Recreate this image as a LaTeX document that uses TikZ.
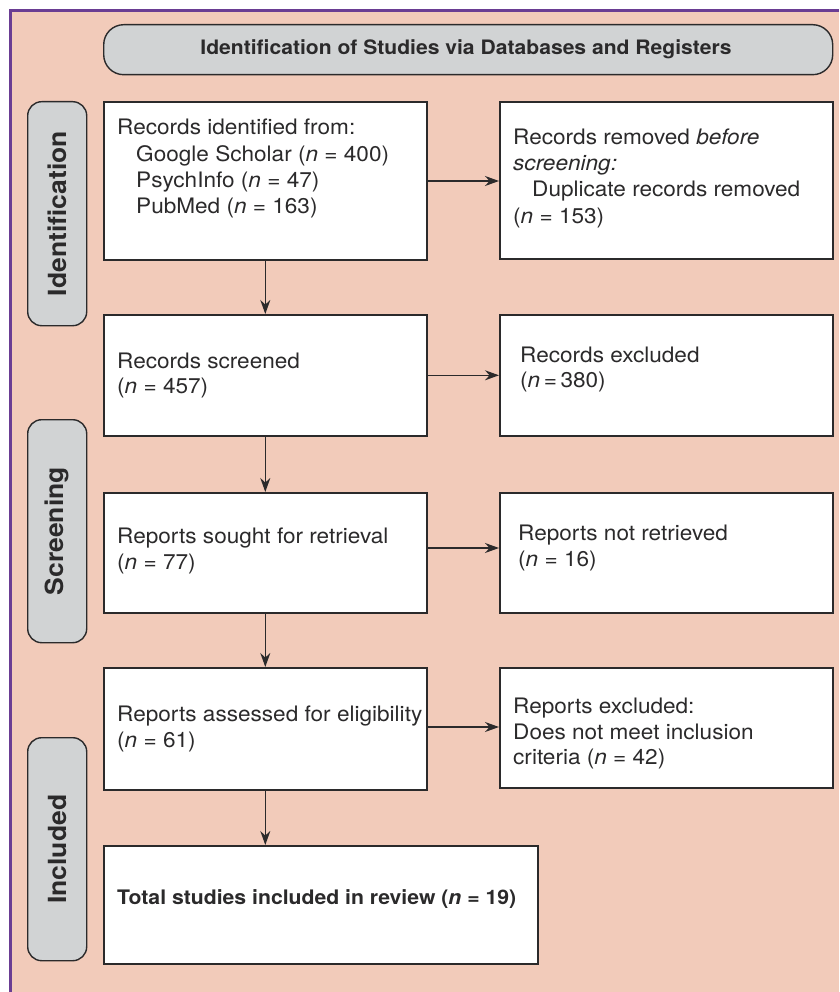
\documentclass[tikz,border=0pt]{standalone}
\usepackage{fontspec}
\setmainfont[FakeStretch=1.06]{TeX Gyre Heros}
\usetikzlibrary{arrows.meta}
\definecolor{bgpink}{HTML}{F2CBBA}
\definecolor{sidegray}{HTML}{D1D3D4}
\definecolor{framepurple}{HTML}{6A3D93}
\definecolor{linegray}{HTML}{2B2A2B}
\tikzset{
  box/.style={draw=linegray, line width=1.6pt, fill=white, anchor=north west, inner sep=0pt},
  sidebox/.style={draw=linegray, line width=1.4pt, fill=sidegray, rounded corners=14pt, anchor=north west, inner sep=0pt},
  txt/.style={anchor=base west, inner sep=0pt, font=\fontsize{21.3}{26}\selectfont, text=linegray},
  btxt/.style={txt, font=\fontsize{20}{26}\selectfont\bfseries},
  hdrtxt/.style={txt, font=\fontsize{19.9}{26}\selectfont\bfseries},
  sidetxt/.style={inner sep=0pt, rotate=90, font=\fontsize{25}{30}\selectfont\bfseries, text=linegray},
  arr/.style={draw=linegray, line width=1.3pt, -{Stealth[length=14pt, width=10pt]}}
}
\newcommand{\nn}{\textit{n} = }
\begin{document}
\begin{tikzpicture}[x=1pt, y=-1pt]
\useasboundingbox (0,0) rectangle (839,992);
\fill[white] (0,0) rectangle (839,992);
\fill[bgpink] (10,11) rectangle (839,992);
\draw[framepurple, line width=3pt] (10,992) -- (10,11) -- (839,11);

% header
\node[sidebox, minimum width=729pt, minimum height=50pt, rounded corners=20pt] (hdr) at (103,24) {};
\node[hdrtxt, anchor=base] (hdrt) at (466,55) {Identification of Studies via Databases and Registers};

% side labels
\node[sidebox, minimum width=59pt, minimum height=224pt] (s1) at (27,101) {};
\node[sidetxt] (s1t) at (s1.center) {Identification};
\node[sidebox, minimum width=59pt, minimum height=223pt] (s2) at (27,419) {};
\node[sidetxt] (s2t) at (s2.center) {Screening};
\node[sidebox, minimum width=59pt, minimum height=223pt] (s3) at (27,737) {};
\node[sidetxt] (s3t) at (s3.center) {Included};

% left column boxes
\node[box, minimum width=323pt, minimum height=158pt] (b1) at (103,101) {};
\node[box, minimum width=323pt, minimum height=121pt] (b2) at (103,314) {};
\node[box, minimum width=323pt, minimum height=120pt] (b3) at (103,492) {};
\node[box, minimum width=323pt, minimum height=122pt] (b4) at (103,667) {};
\node[box, minimum width=434pt, minimum height=118pt] (b5) at (103,845) {};

% right column boxes
\node[box, minimum width=333pt, minimum height=157pt] (r1) at (499,101) {};
\node[box, minimum width=333pt, minimum height=121pt] (r2) at (499,314) {};
\node[box, minimum width=333pt, minimum height=120pt] (r3) at (499,492) {};
\node[box, minimum width=333pt, minimum height=120pt] (r4) at (499,667) {};

% texts
\node[txt] (b1a) at (117,135) {Records identified from:};
\node[txt] (b1b) at (136,161.5) {Google Scholar (\nn400)};
\node[txt] (b1c) at (136,188) {PsychInfo (\nn47)};
\node[txt] (b1d) at (136,214) {PubMed (\nn163)};

\node[txt] (r1a) at (513,145) {Records removed \textit{before}};
\node[txt] (r1b) at (513,171) {\textit{screening:}};
\node[txt] (r1c) at (532,197) {Duplicate records removed};
\node[txt] (r1d) at (513,223) {(\nn153)};

\node[txt] (b2a) at (117,368) {Records screened};
\node[txt] (b2b) at (117,393) {(\nn457)};
\node[txt] (r2a) at (520,362) {Records excluded};
\node[txt] (r2b) at (520,387) {(\textit{n}\,=\,380)};

\node[txt] (b3a) at (117,543) {Reports sought for retrieval};
\node[txt] (b3b) at (117,569) {(\nn77)};
\node[txt] (r3a) at (518,540) {Reports not retrieved};
\node[txt] (r3b) at (518,566) {(\nn16)};

\node[txt] (b4a) at (117,721) {Reports assessed for eligibility};
\node[txt] (b4b) at (117,747) {(\nn61)};
\node[txt] (r4a) at (513,713) {Reports excluded:};
\node[txt] (r4b) at (513,739) {Does not meet inclusion};
\node[txt] (r4c) at (513,764) {criteria (\nn42)};

\node[btxt] (b5a) at (117,904) {Total studies included in review (\nn19)};

% arrows
\draw[arr] (b1.east |- 0,181) -- (r1.west |- 0,181);
\draw[arr] (b2.east) -- (r2.west |- b2.east);
\draw[arr] (b3.east |- 0,548) -- (r3.west |- 0,548);
\draw[arr] (b4.east |- 0,727) -- (r4.west |- 0,727);
\draw[arr] (b1.south) -- (b2.north);
\draw[arr] (b2.south) -- (b3.north);
\draw[arr] (b3.south) -- (b4.north);
\draw[arr] (b4.south) -- (b4.south |- b5.north);
\end{tikzpicture}
\end{document}
